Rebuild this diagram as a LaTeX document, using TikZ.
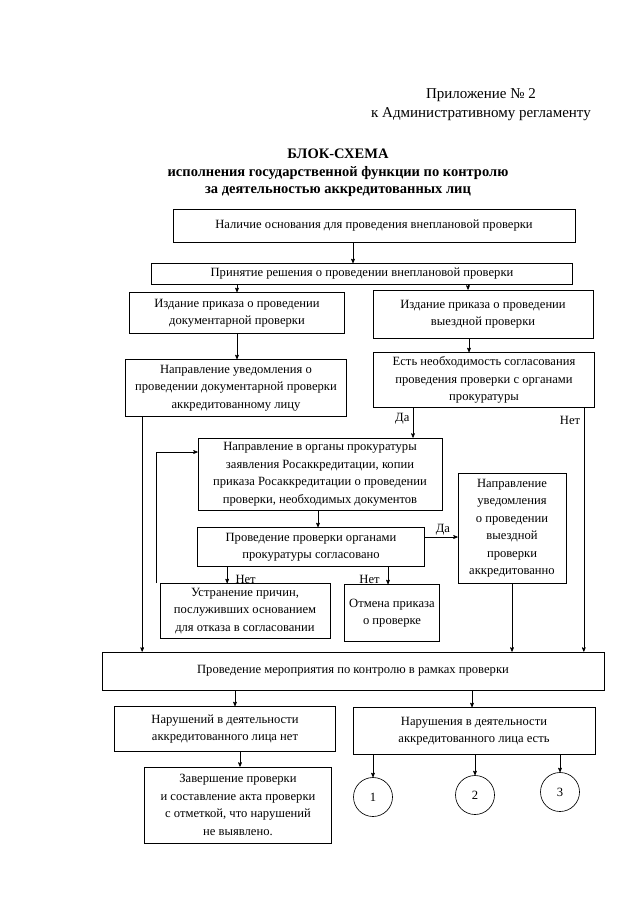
\documentclass[tikz,border=0pt]{standalone}
\usepackage{fontspec}
\setmainfont{Liberation Serif}
\usetikzlibrary{arrows,positioning}

\begin{document}
\begin{tikzpicture}[x=1pt,y=-1pt,->,>=stealth',line width=0.65pt,
				font=\fontsize{12.6}{17.5}\selectfont]
			\tikzstyle{blok}=[draw,rectangle,align=center,inner sep=1pt]
			\tikzstyle{krug}=[draw,circle,minimum size=39pt,inner sep=0pt]
			\useasboundingbox (0,0) rectangle (640,905);

			% shapka
			\node[align=center,font=\fontsize{15}{19}\selectfont] (pril) at (481,105) {Приложение № 2\\к Административному регламенту};
			\node[align=center,font=\bfseries\fontsize{14.5}{17.5}\selectfont] (zag) at (338,173) {БЛОК-СХЕМА\\исполнения государственной функции по контролю\\за деятельностью аккредитованных лиц};

			\node[blok,minimum width=402,minimum height=33] (b1) at (374,226) {Наличие основания для проведения внеплановой проверки};
			\node[blok,minimum width=421,minimum height=21] (b2) at (362,274) {Принятие решения о проведении внеплановой проверки};
			\node[blok,minimum width=215,minimum height=41] (b3L) at (237,313) {Издание приказа о проведении\\документарной проверки};
			\node[blok,minimum width=220,minimum height=48] (b3R) at (483,314) {Издание приказа о проведении\\выездной проверки};
			\node[blok,minimum width=221,minimum height=57] (b4L) at (236,388) {Направление уведомления о\\проведении документарной проверки\\аккредитованному лицу};
			\node[blok,minimum width=221,minimum height=55] (b4R) at (484,380) {Есть необходимость согласования\\проведения проверки с органами\\прокуратуры};
			\node[blok,minimum width=244,minimum height=72] (b5) at (320,474) {Направление в органы прокуратуры\\заявления Росаккредитации, копии\\приказа Росаккредитации о проведении\\проверки, необходимых документов};
			\node[blok,minimum width=227,minimum height=39] (b6) at (311,547) {Проведение проверки органами\\прокуратуры согласовано};
			\node[blok,minimum width=108,minimum height=110] (b7) at (512,528) {Направление\\уведомления\\о проведении\\выездной\\проверки\\аккредитованно};
			\node[blok,minimum width=170,minimum height=55] (b8) at (245,611) {Устранение причин,\\послуживших основанием\\для отказа в согласовании};
			\node[blok,minimum width=95,minimum height=57] (b9) at (392,613) {Отмена приказа\\о проверке};
			\node[blok,minimum width=502,minimum height=38] (b10) at (353,671) {Проведение мероприятия по контролю в рамках проверки};
			\node[blok,minimum width=221,minimum height=45] (b11) at (225,729) {Нарушений в деятельности\\аккредитованного лица нет};
			\node[blok,minimum width=242,minimum height=47] (b12) at (474,731) {Нарушения в деятельности\\аккредитованного лица есть};
			\node[blok,minimum width=187,minimum height=76] (b13) at (238,805) {Завершение проверки\\и составление акта проверки\\с отметкой, что нарушений\\не выявлено.};
			\node[krug] (k1) at (373,797) {1};
			\node[krug] (k2) at (475,795) {2};
			\node[krug] (k3) at (560,792) {3};

			% strelki
			\draw ([xshift=-21]b1.south) -- ([xshift=-21]b1.south |- b2.north);
			\draw (b3L.north |- b2.south) -- (b3L.north);
			\draw ([xshift=-15]b3R.north |- b2.south) -- ([xshift=-15]b3R.north);
			\draw (b3L.south) -- (b3L.south |- b4L.north);
			\draw ([xshift=-15]b4R.north |- b3R.south) -- ([xshift=-15]b4R.north);
			\draw ([xshift=93]b5.north |- b4R.south) -- node[left,pos=0.35] {Да} ([xshift=93]b5.north);
			\draw ([xshift=-11]b4R.south east) -- node[left,pos=0.05] {Нет} ([xshift=-11]b4R.south east |- b10.north);
			\draw ([xshift=17]b4L.south west) -- ([xshift=17]b4L.south west |- b10.north);
			\draw ([xshift=-2]b5.south) -- ([xshift=-2]b5.south |- b6.north);
			\draw ([yshift=10]b6.east) -- node[above,pos=0.55,inner sep=1pt] {Да} ([yshift=10]b6.east -| b7.west);
			\draw ([xshift=30]b6.south west) -- node[right,pos=0.75,inner sep=8pt] {Нет} ([xshift=30]b6.south west |- b8.north);
			\draw ([xshift=-4]b9.north |- b6.south) -- node[left,pos=0.75,inner sep=8pt] {Нет} ([xshift=-4]b9.north);
			\draw ([xshift=-3]b8.north west) |- ([yshift=22]b5.west);
			\draw (b7.south) -- (b7.south |- b10.north);
			\draw ([xshift=10]b11.north |- b10.south) -- ([xshift=10]b11.north);
			\draw ([xshift=-2]b12.north |- b10.south) -- ([xshift=-2]b12.north);
			\draw ([xshift=2]b13.north |- b11.south) -- ([xshift=2]b13.north);
			\draw (k1.north |- b12.south) -- (k1);
			\draw (k2.north |- b12.south) -- (k2);
			\draw (k3.north |- b12.south) -- (k3);
		\end{tikzpicture}
\end{document}
